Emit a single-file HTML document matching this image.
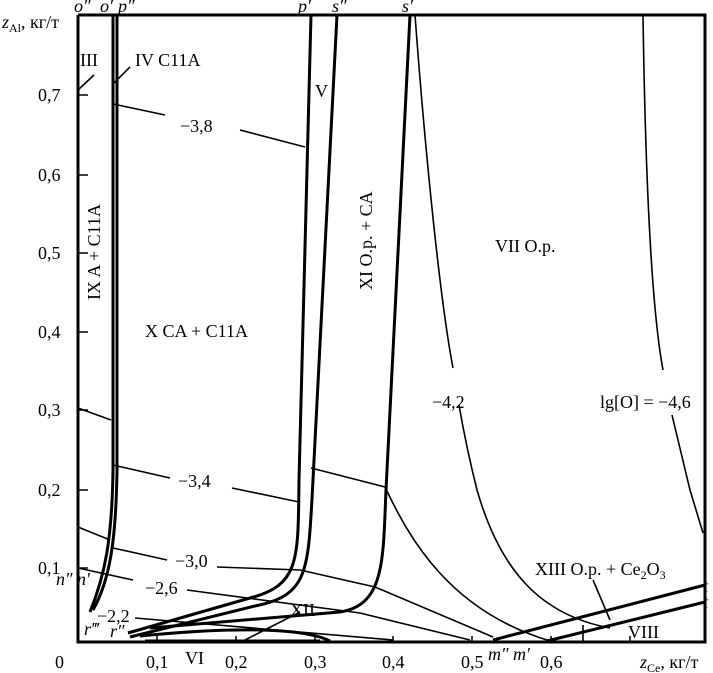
<!DOCTYPE html>
<html><head><meta charset="utf-8"><style>
html,body{margin:0;padding:0;background:#fff;}
svg{display:block;}
text{font-family:"Liberation Serif","DejaVu Serif",serif;font-size:18px;fill:#000;}
.i{font-style:italic;}
</style></head><body>
<svg width="713" height="673" viewBox="0 0 713 673" xmlns="http://www.w3.org/2000/svg">
<g fill="none" stroke="#000">
<!-- axes -->
<path d="M78,15 V642 H705 V15 H78" stroke-width="3"/>
<!-- y ticks -->
<g stroke-width="1.5">
<path d="M78,95 H88 M78,175 H88 M78,253 H88 M78,332 H88 M78,410 H88 M78,490 H88 M78,568 H88"/>
<path d="M157,642 V636 M236,642 V636 M315,642 V636 M393,642 V636 M472,642 V636 M551,642 V636 M630,642 V636"/>
</g>
<!-- thick boundaries -->
<g stroke-width="3">
<path d="M113,15 V470 C112,540 105,575 90,612"/>
<path d="M117,15 V470 C116,540 110,580 93,610"/>
<path d="M311,15 L299,480 C298,560 300,585 250,598 L128,633"/>
<path d="M337,15 L313,480 C308,570 310,595 255,606 L130,637"/>
<path d="M410,15 L386,490 C383,560 385,605 340,612 L150,628"/>
<path d="M140,636 C220,628 300,626 330,641 M145,641 L320,641"/>
<path d="M493,640 L705,585"/>
<path d="M547,641 L705,602"/>
</g>
<!-- thin lines -->
<g stroke-width="1.6">
<path d="M415,15 C425,150 440,300 453,368"/>
<path d="M459,405 C465,440 472,470 477,490 C500,570 540,615 610,628"/>
<path d="M643,15 C645,150 650,300 663,370"/>
<path d="M672,415 L690,490 L703,533"/>
<path d="M113,104 L165,115 M240,130 L305,147"/>
<path d="M78,408 L111,420"/>
<path d="M113,465 L170,478 M232,488 L299,502"/>
<path d="M311,468 L385,487 C410,540 450,610 547,640"/>
<path d="M78,527 L110,540 M113,548 L167,560 M217,567 L300,570"/>
<path d="M300,570 L375,587 L493,637"/>
<path d="M78,568 L133,580 M187,590 L360,613 L470,640"/>
<path d="M135,618 L393,640"/>
<path d="M300,612 L245,640"/>
<path d="M583,625 V642"/>
<path d="M593,580 L610,620"/>
<path d="M94,75 L78,90"/>
<path d="M130,67 L114,83"/>
</g>
</g>
<!-- axis labels -->
<text x="2" y="28" class="i">z<tspan font-size="12" dy="4" font-style="normal">Al</tspan><tspan dy="-4" font-style="normal">, кг/т</tspan></text>
<text x="38" y="101">0,7</text>
<text x="38" y="181">0,6</text>
<text x="38" y="259">0,5</text>
<text x="38" y="338">0,4</text>
<text x="38" y="416">0,3</text>
<text x="38" y="496">0,2</text>
<text x="38" y="574">0,1</text>
<text x="55" y="668">0</text>
<text x="146" y="668">0,1</text>
<text x="225" y="668">0,2</text>
<text x="304" y="668">0,3</text>
<text x="382" y="668">0,4</text>
<text x="461" y="668">0,5</text>
<text x="540" y="668">0,6</text>
<text x="640" y="668" class="i">z<tspan font-size="12" dy="4" font-style="normal">Ce</tspan><tspan dy="-4" font-style="normal">, кг/т</tspan></text>
<text x="488" y="660" class="i" font-size="15">m″</text>
<text x="513" y="660" class="i" font-size="15">m′</text>
<!-- top labels -->
<text x="74" y="12" class="i" font-size="15">o″</text>
<text x="100" y="12" class="i" font-size="15">o′</text>
<text x="118" y="12" class="i" font-size="15">p″</text>
<text x="298" y="12" class="i" font-size="15">p′</text>
<text x="332" y="12" class="i" font-size="15">s″</text>
<text x="402" y="12" class="i" font-size="15">s′</text>
<text x="56" y="585" class="i" font-size="15">n″ n′</text>
<text x="84" y="635" class="i" font-size="15">r‴</text>
<text x="110" y="637" class="i" font-size="15">r″</text>
<text x="703" y="592" class="i" font-size="14">t</text>
<text x="703" y="608" class="i" font-size="14">t</text>
<!-- region labels -->
<text x="80" y="66">III</text>
<text x="135" y="66">IV  C11A</text>
<text x="315" y="97">V</text>
<text x="180" y="132">−3,8</text>
<text x="178" y="487">−3,4</text>
<text x="175" y="567">−3,0</text>
<text x="145" y="594">−2,6</text>
<text x="97" y="622">−2,2</text>
<text transform="translate(100,300) rotate(-90)">IX  A + C11A</text>
<text x="145" y="337">X  CA + C11A</text>
<text transform="translate(372,290) rotate(-90)">XI  O.p. + CA</text>
<text x="495" y="252">VII  O.p.</text>
<text x="432" y="408">−4,2</text>
<text x="600" y="408">lg[O] = −4,6</text>
<text x="535" y="575">XIII  O.p. + Ce<tspan font-size="12" dy="4">2</tspan><tspan dy="-4">O</tspan><tspan font-size="12" dy="4">3</tspan></text>
<text x="290" y="616">XII</text>
<text x="628" y="638">VIII</text>
<text x="185" y="664">VI</text>
</svg>
</body></html>
